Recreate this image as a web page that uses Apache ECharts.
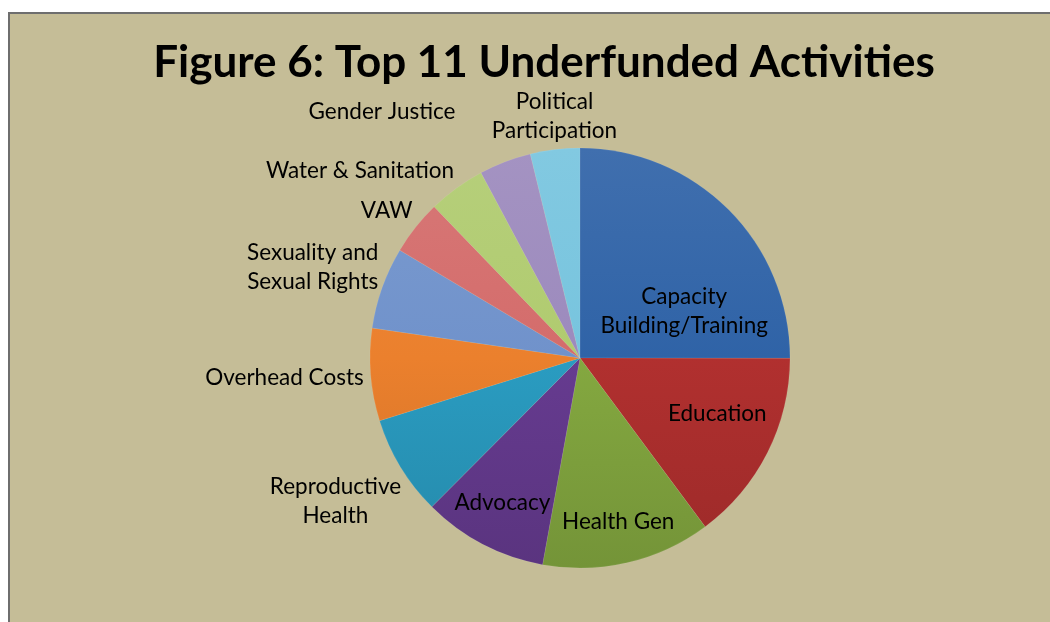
<!DOCTYPE html>
<html><head><meta charset="utf-8">
<script src="https://cdn.jsdelivr.net/npm/echarts@6/dist/echarts.min.js"></script>
<style>html,body{margin:0;padding:0;background:#fff}#c{width:1050px;height:622px}</style>
</head><body><div id="c"></div>
<script>
// ---- data ----
const categories = ['Capacity\nBuilding/Training', 'Education', 'Health Gen', 'Advocacy',
  'Reproductive\nHealth', 'Overhead Costs', 'Sexuality and\nSexual Rights', 'VAW',
  'Water & Sanitation', 'Gender Justice', 'Political\nParticipation'];
const values = [25.0, 14.8, 13.0, 9.6, 7.7, 7.1, 6.3, 4.2, 4.4, 4.0, 3.8];
const titleText = 'Figure 6: Top 11 Underfunded Activities';

// ---- styles ----
const colors = ['#2F63A7', '#B1302F', '#84A840', '#663B90', '#2A9CC1', '#EB802D',
  '#7092CB', '#D46C6B', '#B0CB6F', '#9C8ABD', '#77C4DE'];
// inside labels: fraction across slice angle and fraction of radius; outside: optional shift
const labelPlace = [
  { inside: true, frac: 0.733, rf: 0.543 },
  { inside: true, frac: 0.41, rf: 0.705 },
  { inside: true, frac: 0.5, rf: 0.8 },
  { inside: true, frac: 0.52, rf: 0.78 },
  { shift: [4, 3] }, { shift: [-3, 0] }, {}, {}, {}, { shift: [-71, -32] }, {}
];
const GAP = 4;

function adjust(hex, f) {
  const n = parseInt(hex.slice(1), 16);
  let r = (n >> 16) & 255, g = (n >> 8) & 255, b = n & 255;
  const t = f < 0 ? 0 : 255, p = Math.abs(f);
  r = Math.round((t - r) * p + r); g = Math.round((t - g) * p + g); b = Math.round((t - b) * p + b);
  return 'rgb(' + r + ',' + g + ',' + b + ')';
}
function grad(hex) {
  return { type: 'linear', x: 0, y: 148, x2: 0, y2: 568, global: true,
    colorStops: [{ offset: 0, color: adjust(hex, 0.08) }, { offset: 0.5, color: hex }, { offset: 1, color: adjust(hex, -0.12) }] };
}

const chart = echarts.init(document.getElementById('c'));
chart.setOption({
  backgroundColor: '#ffffff',
  animation: false,
  graphic: [{
    type: 'rect', z: -10, silent: true,
    shape: { x: 9, y: 13, width: 1100, height: 700 },
    style: { fill: '#C5BD97', stroke: '#6E6E6E', lineWidth: 2 }
  }],
  title: {
    text: titleText, left: 539, top: 36, textAlign: 'center',
    textStyle: { fontFamily: 'Lato', fontWeight: 'bold', fontSize: 44, color: '#000' }
  },
  series: [{
    type: 'pie',
    center: [580, 358],
    radius: 210,
    startAngle: 90,
    clockwise: true,
    silent: true,
    avoidLabelOverlap: false,
    data: categories.map((n, i) => ({ name: n, value: values[i], itemStyle: { color: grad(colors[i]) } })),
    itemStyle: { borderColor: 'rgba(255,255,255,0.15)', borderWidth: 0.5 },
    label: { show: true, position: 'outside', formatter: '{b}', color: '#000',
      fontFamily: 'Lato', fontSize: 22.5, lineHeight: 29 },
    labelLine: { show: false },
    labelLayout: function (p) {
      const lay = chart.getModel().getSeriesByIndex(0).getData().getItemLayout(p.dataIndex);
      const pl = labelPlace[p.dataIndex];
      const w = p.labelRect.width, h = p.labelRect.height;
      if (pl.inside) {
        const a = lay.startAngle + (lay.endAngle - lay.startAngle) * pl.frac;
        return { x: lay.cx + Math.cos(a) * lay.r * pl.rf, y: lay.cy + Math.sin(a) * lay.r * pl.rf,
          align: 'center', verticalAlign: 'middle' };
      }
      const mid = (lay.startAngle + lay.endAngle) / 2;
      const dx = Math.cos(mid), dy = Math.sin(mid);
      const px = lay.cx + dx * (lay.r + GAP), py = lay.cy + dy * (lay.r + GAP);
      const ax = Math.sign(dx) * Math.min(1, Math.max(0, (Math.abs(dx) - 0.15) / 0.3));
      const ay = Math.max(-1, Math.min(1, dy * 2));
      const s = pl.shift || [0, 0];
      return { x: px + ax * w / 2 + s[0], y: py + ay * h / 2 + s[1], align: 'center', verticalAlign: 'middle' };
    }
  }]
});
</script></body></html>
